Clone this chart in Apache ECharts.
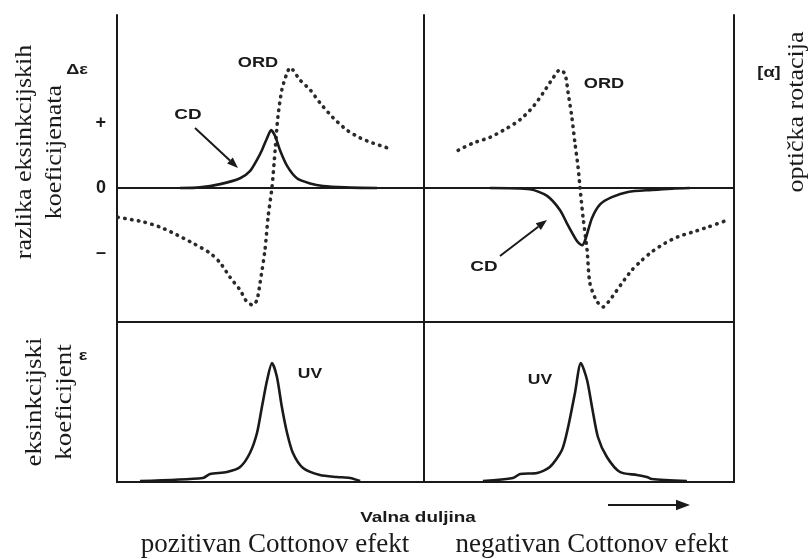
<!DOCTYPE html>
<html>
<head>
<meta charset="utf-8">
<script src="https://cdn.jsdelivr.net/npm/echarts@6/dist/echarts.min.js"></script>
<style>
  html, body { margin: 0; padding: 0; background: #fff; }
  #chart { width: 812px; height: 559px; }
</style>
</head>
<body>
<div id="chart"></div>
<script>
// Wavelength runs 0..100 across each panel; Δε / [α] and ε are in arbitrary units.
const signTicks = [1, 0, -1];
const signLabels = { '1': '+', '0': '0', '-1': '–' };

// Positive Cotton effect
const cdPositive = [
  [20.5, 0], [27.0, 0.01], [33.6, 0.06], [40.1, 0.15], [43.3, 0.26], [45.9, 0.46],
  [47.2, 0.58], [48.9, 0.77], [50.2, 0.89], [51.5, 0.80], [53.1, 0.58], [55.4, 0.34],
  [58.6, 0.15], [62.9, 0.07], [67.1, 0.03], [74.3, 0.01], [84.7, 0]
];
const ordPositive = [
  [0.3, -0.45], [8.5, -0.52], [14.0, -0.60], [19.5, -0.72], [24.8, -0.85], [30.3, -1.00],
  [33.6, -1.15], [36.8, -1.37], [40.1, -1.57], [42.3, -1.75], [44.3, -1.80], [45.6, -1.72],
  [46.6, -1.46], [48.2, -0.95], [49.2, -0.45], [50.5, 0.02], [51.5, 0.58], [52.4, 1.09],
  [53.7, 1.51], [55.4, 1.77], [56.4, 1.85], [59.6, 1.66], [62.9, 1.51], [66.1, 1.31],
  [70.4, 1.08], [74.9, 0.89], [79.2, 0.77], [83.4, 0.69], [87.9, 0.62]
];
const uvPositive = [
  [7.5, 0.01], [28.0, 0.04], [30.3, 0.08], [35.8, 0.10], [40.1, 0.15], [43.3, 0.29],
  [45.6, 0.49], [47.2, 0.75], [48.9, 1.02], [50.5, 1.19], [52.1, 1.05], [53.7, 0.75],
  [55.4, 0.49], [57.3, 0.29], [60.6, 0.14], [66.1, 0.07], [71.7, 0.05], [75.9, 0.04],
  [79.2, 0.01]
];

// Negative Cotton effect
const cdNegative = [
  [21.3, 0], [34.2, -0.02], [39.7, -0.12], [43.9, -0.34], [46.5, -0.58], [49.4, -0.82],
  [51.0, -0.88], [52.0, -0.80], [54.2, -0.46], [56.8, -0.25], [60.6, -0.14], [65.8, -0.06],
  [73.5, -0.03], [80.0, -0.01], [85.8, 0]
];
const ordNegative = [
  [11.0, 0.58], [15.8, 0.69], [21.3, 0.78], [26.8, 0.92], [31.0, 1.05], [35.2, 1.25],
  [38.4, 1.46], [41.6, 1.69], [43.9, 1.82], [45.5, 1.75], [46.5, 1.46], [47.7, 1.09],
  [48.7, 0.69], [49.7, 0.32], [50.3, 0.02], [51.3, -0.45], [52.6, -0.95], [53.5, -1.46],
  [55.5, -1.72], [57.7, -1.83], [60.6, -1.68], [63.9, -1.46], [67.1, -1.26], [70.3, -1.11],
  [73.5, -0.98], [77.7, -0.85], [81.9, -0.75], [86.5, -0.68], [91.6, -0.60], [98.1, -0.49]
];
const uvNegative = [
  [19.0, 0.01], [28.7, 0.04], [31.0, 0.08], [36.5, 0.09], [40.6, 0.15], [44.5, 0.32],
  [46.5, 0.55], [48.7, 0.89], [50.6, 1.19], [52.6, 1.02], [54.2, 0.75], [56.1, 0.45],
  [59.0, 0.25], [63.2, 0.10], [68.7, 0.07], [71.9, 0.05], [73.5, 0.03], [84.8, 0.01]
];

const INK = '#1a1a1a';
const SANS = '"Liberation Sans", Arial, sans-serif';
const SERIF = '"Liberation Serif", "Times New Roman", serif';

const frameLine = { show: true, onZero: false, lineStyle: { color: INK, width: 2 } };

function topY(gridIndex, position, extra) {
  return Object.assign({
    type: 'value', gridIndex: gridIndex, position: position,
    min: -2.06, max: 2.66,
    axisLine: frameLine,
    axisTick: { show: false },
    axisLabel: { show: false },
    splitLine: { show: false }
  }, extra || {});
}

function panelX(gridIndex, visible) {
  return {
    type: 'value', gridIndex: gridIndex, min: 0, max: 100,
    show: visible,
    axisLine: { show: true, onZero: true, lineStyle: { color: INK, width: 2 } },
    axisTick: { show: false },
    axisLabel: { show: false },
    splitLine: { show: false }
  };
}

function solid(data, xi, yi) {
  return {
    type: 'line', data: data, xAxisIndex: xi, yAxisIndex: yi,
    showSymbol: false, smooth: 0.25, z: 5, silent: true,
    lineStyle: { color: INK, width: 2.6 }
  };
}

function dotted(data, xi, yi) {
  return {
    type: 'line', data: data, xAxisIndex: xi, yAxisIndex: yi,
    showSymbol: false, smooth: 0.25, z: 4, silent: true,
    lineStyle: { color: '#2a2a2a', width: 3.6, type: [0.5, 6.4], cap: 'round' }
  };
}

function label(text, x, y, opts) {
  opts = opts || {};
  return {
    type: 'text', x: x, y: y,
    rotation: opts.rotation || 0,
    scaleX: opts.scaleX || 1, scaleY: opts.scaleY || 1,
    z: 10, silent: true,
    style: {
      text: text, x: 0, y: 0,
      font: opts.font,
      lineHeight: opts.lineHeight,
      fill: opts.fill || INK,
      align: 'center', verticalAlign: 'middle',
      textAlign: 'center', textVerticalAlign: 'middle'
    }
  };
}

function arrow(x1, y1, x2, y2, head) {
  const a = Math.atan2(y2 - y1, x2 - x1);
  const len = head || 10, half = len * 0.38;
  const bx = x2 - len * Math.cos(a), by = y2 - len * Math.sin(a);
  const px = -Math.sin(a) * half, py = Math.cos(a) * half;
  return [
    { type: 'line', z: 10, silent: true,
      shape: { x1: x1, y1: y1, x2: bx, y2: by },
      style: { stroke: INK, lineWidth: 2 } },
    { type: 'polygon', z: 10, silent: true,
      shape: { points: [[x2, y2], [bx + px, by + py], [bx - px, by - py]] },
      style: { fill: INK } }
  ];
}

const sansBold = 'bold 14px ' + SANS;

const option = {
  backgroundColor: '#fff',
  animation: false,
  grid: [
    { left: 117, top: 15, width: 307, height: 307 },
    { left: 424, top: 15, width: 310, height: 307 },
    { left: 117, top: 322, width: 307, height: 160, show: true, borderColor: INK, borderWidth: 2, backgroundColor: 'transparent' },
    { left: 424, top: 322, width: 310, height: 160, show: true, borderColor: INK, borderWidth: 2, backgroundColor: 'transparent' }
  ],
  xAxis: [panelX(0, true), panelX(1, true), panelX(2, false), panelX(3, false)],
  yAxis: [
    topY(0, 'left', {
      axisLabel: {
        show: true, customValues: signTicks, margin: 11,
        formatter: v => signLabels[String(v)],
        fontFamily: SANS, fontWeight: 'bold', fontSize: 18, color: INK
      }
    }),
    topY(1, 'left'),
    topY(1, 'right'),
    { type: 'value', gridIndex: 2, min: 0, max: 1.6, show: false, splitLine: { show: false } },
    { type: 'value', gridIndex: 3, min: 0, max: 1.6, show: false, splitLine: { show: false } }
  ],
  series: [
    dotted(ordPositive, 0, 0),
    solid(cdPositive, 0, 0),
    dotted(ordNegative, 1, 1),
    solid(cdNegative, 1, 1),
    solid(uvPositive, 2, 3),
    solid(uvNegative, 3, 4)
  ],
  graphic: { elements: [
    // axis symbols
    label('Δε', 77, 70, { font: sansBold, scaleX: 1.3 }),
    label('ε', 83, 356, { font: sansBold, scaleX: 1.3 }),
    label('[α]', 769, 73, { font: sansBold, scaleX: 1.3 }),
    // curve names
    label('ORD', 258, 63, { font: sansBold, scaleX: 1.3 }),
    label('CD', 188, 115, { font: sansBold, scaleX: 1.35 }),
    label('ORD', 604, 84, { font: sansBold, scaleX: 1.3 }),
    label('CD', 484, 267, { font: sansBold, scaleX: 1.35 }),
    label('UV', 310, 374, { font: sansBold, scaleX: 1.25 }),
    label('UV', 540, 380, { font: sansBold, scaleX: 1.25 }),
    ...arrow(195, 128, 238, 168, 11),
    ...arrow(500, 256, 547, 220, 11),
    // axis titles
    label('razlika eksinkcijskih\nkoeficijenata', 40, 152,
      { font: '26px ' + SERIF, lineHeight: 35, rotation: Math.PI / 2, scaleY: 0.85 }),
    label('eksinkcijski\nkoeficijent', 50, 402,
      { font: '27px ' + SERIF, lineHeight: 35, rotation: Math.PI / 2, scaleY: 0.85 }),
    label('optička rotacija', 797, 112,
      { font: '26px ' + SERIF, rotation: Math.PI / 2, scaleY: 0.85 }),
    label('Valna duljina', 418, 518, { font: 'bold 14px ' + SANS, scaleX: 1.35 }),
    ...arrow(608, 505, 690, 505, 14),
    label('pozitivan Cottonov efekt', 275, 545, { font: '27px ' + SERIF }),
    label('negativan Cottonov efekt', 592, 545, { font: '27px ' + SERIF })
  ] }
};

const chart = echarts.init(document.getElementById('chart'));
chart.setOption(option);
</script>
</body>
</html>
